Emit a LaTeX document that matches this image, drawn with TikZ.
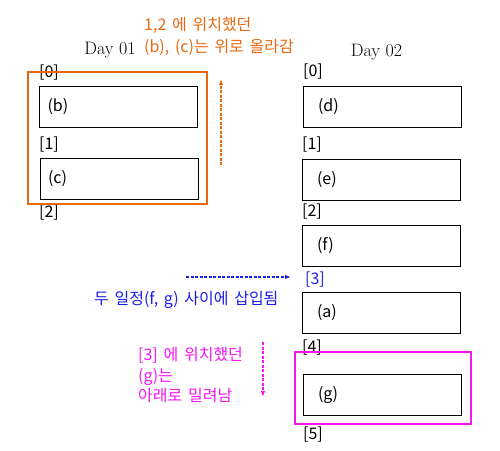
\documentclass[tikz,border=0pt]{standalone}
\usepackage{fontspec}
\newfontfamily\krfont[WordSpace=1.6]{Noto Sans CJK KR}
\usetikzlibrary{arrows.meta,positioning}
\definecolor{movorange}{RGB}{232,104,16}
\definecolor{movblue}{RGB}{30,30,235}
\definecolor{movpink}{RGB}{248,20,245}

\begin{document}
\begin{tikzpicture}[x=1pt,y=-1pt,>={Latex[length=6pt,width=4.5pt]},font=\krfont\fontsize{16}{22}\selectfont,
    slot/.style={draw,line width=1pt,minimum height=41pt,inner ysep=0pt,align=left},
    slotL/.style={slot,inner xsep=8pt,text width=142pt},
    slotR/.style={slot,inner xsep=15pt,text width=128pt},
    idx/.style={anchor=west,inner sep=0pt},
    day/.style={font=\rmfamily\fontsize{18}{20}\selectfont,inner sep=0pt},
    note/.style={anchor=west,inner sep=0pt,align=left},
    move/.style={->,dashed,dash pattern=on 3pt off 1.5pt,line width=1.3pt}]
    \useasboundingbox (0,0) rectangle (500,450);
    % day 01
    \node[day] (d1) at (110,50) {Day 01};
    \node[idx] (l0) at (39,73) {[0]};
    \node[slotL] (b) at (118.5,107) {(b)};
    \node[idx] (l1) at (39,145) {[1]};
    \node[slotL] (c) at (119,178.5) {(c)};
    \node[idx] (l2) at (39,213) {[2]};
    \draw[movorange,line width=2.2pt] (28,72) rectangle (207,204);
    % day 02
    \node[day] (d2) at (376.5,52) {Day 02};
    \node[idx] (r0) at (303,72) {[0]};
    \node[slotR] (d) at (382,106.5) {(d)};
    \node[idx] (r1) at (302,145) {[1]};
    \node[slotR] (e) at (381,179.5) {(e)};
    \node[idx] (r2) at (302,212) {[2]};
    \node[slotR] (f) at (381,245.5) {(f)};
    \node[idx,text=movblue] (r3) at (305,280) {[3]};
    \node[slotR] (a) at (381,312.5) {(a)};
    \node[idx] (r4) at (302,348) {[4]};
    \node[slotR] (g) at (382,394.5) {(g)};
    \node[idx] (r5) at (303,435) {[5]};
    \draw[movpink,line width=2pt] (295,352) rectangle (471,424);
    % notes
    \node[note,text=movorange] (upnote) at (144,36) {1,2 에 위치했던\\(b), (c)는 위로 올라감};
    \coordinate (upA) at (221,165);
    \coordinate (upB) at (221,79);
    \draw[move,movorange] (upA) -- (upB);
    \node[note,text=movblue] (insnote) at (94,300) {두 일정(f, g) 사이에 삽입됨};
    \coordinate (insA) at (186,277);
    \coordinate (insB) at (291,277);
    \draw[move,movblue] (insA) -- (insB);
    \node[note,text=movpink,font=\krfont\fontsize{16}{20.5}\selectfont] (downnote) at (138,375.5) {[3] 에 위치했던\\(g)는\\아래로 밀려남};
    \coordinate (downA) at (263,342);
    \coordinate (downB) at (263,397);
    \draw[move,movpink] (downA) -- (downB);
\end{tikzpicture}
\end{document}
